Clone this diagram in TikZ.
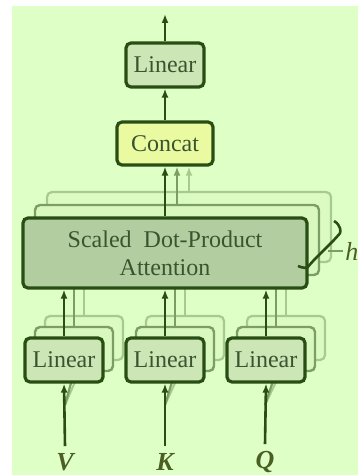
\documentclass[tikz,border=0pt]{standalone}
\usepackage{fontspec}
\setmainfont{Liberation Serif}
\usetikzlibrary{positioning,arrows.meta}

\definecolor{bggreen}{RGB}{222,255,197}
\definecolor{edgegreen}{RGB}{40,78,20}
\definecolor{linfill}{RGB}{204,230,182}
\definecolor{catfill}{RGB}{234,250,160}
\definecolor{attfill}{RGB}{178,206,160}
\definecolor{txtgreen}{RGB}{58,84,48}

\tikzset{
  box/.style={draw=edgegreen, line width=1.6pt, rounded corners=2.5pt,
    text=txtgreen, font=\fontsize{12}{14}\selectfont, inner sep=0pt, align=center},
  linbox/.style={box, fill=linfill, minimum width=39pt, minimum height=22pt},
  catbox/.style={box, fill=catfill, minimum width=48pt, minimum height=21.5pt},
  attbox/.style={box, fill=attfill, minimum width=142pt, minimum height=35pt},
  layer2/.style={draw=edgegreen!55!bggreen, fill=bggreen!70!linfill, line width=1.2pt},
  layer3/.style={draw=edgegreen!30!bggreen, fill=bggreen!85!linfill, line width=1.1pt},
  flow/.style={draw=edgegreen, line width=1.3pt, -{Latex[length=4.5pt,width=3.5pt]}},
  flow2/.style={flow, draw=edgegreen!55!bggreen, line width=1.1pt},
  flow3/.style={flow, draw=edgegreen!30!bggreen, line width=1pt},
  inlabel/.style={text=txtgreen!75!olive, font=\fontsize{13}{15}\selectfont\bfseries\itshape}
}

\begin{document}
\begin{tikzpicture}[x=0.5pt, y=-0.5pt]
\useasboundingbox (0,0) rectangle (358,475);
\fill[bggreen] (12,6) rectangle (358,475);

% attention layers, back to front
\node[attbox, layer3] (att3) at (189,227) {};
\node[attbox, layer2] (att2) at (177,240) {};

% linear layers behind
\node[linbox, layer3] (linV3) at (84,338) {};
\node[linbox, layer2] (linV2) at (74,349) {};
\node[linbox, layer3] (linK3) at (185,338) {};
\node[linbox, layer2] (linK2) at (175,349) {};
\node[linbox, layer3] (linQ3) at (286,338) {};
\node[linbox, layer2] (linQ2) at (276,349) {};

% inputs
\node[inlabel] (V) at (65,462) {V};
\node[inlabel] (K) at (165,462) {K};
\node[inlabel] (Q) at (265,462) {Q};
\coordinate (vIn) at (65,405);
\coordinate (kIn) at (165,405);
\coordinate (qIn) at (265,405);

\draw[flow3] (vIn) -- (linV3.south);
\draw[flow2] (vIn) -- (linV2.south);
\draw[flow3] (kIn) -- (linK3.south);
\draw[flow2] (kIn) -- (linK2.south);
\draw[flow3] (qIn) -- (linQ3.south);
\draw[flow2] (qIn) -- (linQ2.south);

\draw[flow3] (linV3.north) -- (linV3.north |- att3.south);
\draw[flow2] (linV2.north) -- (linV2.north |- att2.south);
\draw[flow3] (linK3.north) -- (linK3.north |- att3.south);
\draw[flow2] (linK2.north) -- (linK2.north |- att2.south);
\draw[flow3] (linQ3.north) -- (linQ3.north |- att3.south);
\draw[flow2] (linQ2.north) -- (linQ2.north |- att2.south);

% front row
\node[attbox] (att) at (165,253) {Scaled\ \ Dot-Product\\Attention};
\node[linbox] (linV) at (64,360) {Linear};
\node[linbox] (linK) at (165,360) {Linear};
\node[linbox] (linQ) at (266,360) {Linear};

\node[catbox] (concat) at (165,143.5) {Concat};
\node[linbox] (linTop) at (165,65) {Linear};
\coordinate (out) at (165,14);

\draw[flow] (V.north) -- (linV.south);
\draw[flow] (K.north) -- (linK.south);
\draw[flow] (Q.north) -- (linQ.south);
\draw[flow] (linV.north) -- (linV.north |- att.south);
\draw[flow] (linK.north) -- (linK.north |- att.south);
\draw[flow] (linQ.north) -- (linQ.north |- att.south);

\draw[flow3] (att3.north) -- (att3.north |- concat.south);
\draw[flow2] (att2.north) -- (att2.north |- concat.south);
\draw[flow] (att.north) -- (concat.south);
\draw[flow] (concat.north) -- (linTop.south);
\draw[flow] (linTop.north) -- (out);

% heads brace
\coordinate (braceTip) at (328,251);
\node[text=txtgreen!75!olive, font=\fontsize{13}{15}\selectfont\itshape, anchor=west, inner sep=1pt] (hLabel) at (343,251) {h};
\draw[edgegreen, line width=1.3pt, rounded corners=3pt]
  (334,221) .. controls (341,225) and (341,232) .. (336,238)
  -- (311,263) .. controls (307,268) and (302,268) .. (298,266);
\draw[edgegreen!55!bggreen, line width=0.8pt] (braceTip) -- (hLabel.west);
\end{tikzpicture}
\end{document}
